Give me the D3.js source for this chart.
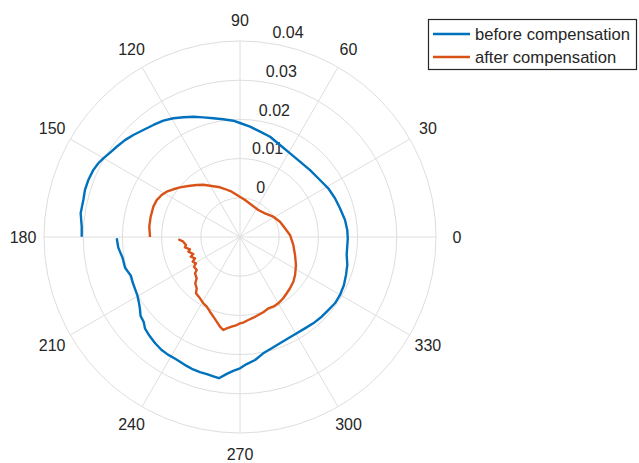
<!DOCTYPE html>
<html>
<head>
<meta charset="utf-8">
<script src="https://cdn.jsdelivr.net/npm/d3@7"></script>
<style>
  html, body { margin: 0; padding: 0; background: #ffffff; }
  svg { display: block; font-family: "Liberation Sans", Arial, Helvetica, sans-serif; }
</style>
</head>
<body>
<svg id="chart" width="639" height="463"></svg>
<script>
// ---- data (theta in degrees, radius in data units) ----
const seriesNames = ["before compensation", "after compensation"];
const thetaTicks = [0, 30, 60, 90, 120, 150, 180, 210, 240, 270, 300, 330];
const rTicks = [0, 0.01, 0.02, 0.03, 0.04];
const rTickLabels = ["0", "0.01", "0.02", "0.03", "0.04"];
const rLimits = [-0.01, 0.04];

const beforeTheta = [179.9, 176.3, 171.5, 166.7, 163.1, 159.4, 155.5, 152.5, 150.1, 147, 143.8, 139.9, 136.3,
  132.1, 127.7, 123.4, 119.3, 115.3, 111.2, 107.1, 102.7, 98.1, 93.3, 90, 84.8, 79.2, 73.3, 66.5, 59.1, 51.5,
  43.7, 35.5, 28.9, 22.2, 16, 9.2, 3.7, -1, -4.3, -9.6, -14.6, -19.7, -24.8, -30.1, -34.9, -39.6, -44.3, -49.7,
  -54.6, -59.5, -64.5, -69.4, -74.1, -78.7, -83, -87, -90, -92.9, -95.5, -98.5, -100.5, -103.6, -106.5, -109.5,
  -112.5, -115.5, -118, -121.5, -124.9, -128.6, -132.5, -136, -138.5, -141.5, -144.5, -147, -150.5, -154, -157,
  -160.5, -165, -170, -175, -179.4];
const beforeR = [0.03038, 0.03046, 0.03110, 0.03107, 0.03133, 0.03133, 0.03115, 0.03074, 0.03023, 0.02952,
  0.02898, 0.02837, 0.02765, 0.02679, 0.02612, 0.02554, 0.02474, 0.02378, 0.02291, 0.02194, 0.02105, 0.02033,
  0.01972, 0.01908, 0.01827, 0.01735, 0.01671, 0.01559, 0.01487, 0.01457, 0.01472, 0.01505, 0.01571, 0.01617,
  0.01653, 0.01714, 0.01742, 0.01750, 0.01745, 0.01760, 0.01829, 0.01872, 0.01921, 0.01949, 0.01954, 0.01923,
  0.01911, 0.01888, 0.01860, 0.01852, 0.01862, 0.01898, 0.01952, 0.02026, 0.02161, 0.02247, 0.02349, 0.02418,
  0.02508, 0.02643, 0.02622, 0.02597, 0.02597, 0.02584, 0.02559, 0.02533, 0.02520, 0.02520, 0.02508, 0.02469,
  0.02418, 0.02367, 0.02278, 0.02240, 0.02138, 0.02074, 0.02010, 0.01985, 0.01972, 0.01954, 0.02036, 0.02043,
  0.02117, 0.02145];

const afterTheta = [180, 173.5, 167.2, 160.7, 156.1, 151.8, 148.3, 144.4, 140.4, 135.4, 129.8, 125.1, 119, 111.9,
  107.4, 100.4, 92.4, 82.3, 70, 55.9, 43.5, 31.4, 20.9, 10.9, 2.3, -8.5, -18.1, -26.6, -34.6, -40, -45.7, -50.3,
  -54.8, -60, -64.5, -68.4, -72.8, -76.8, -80.6, -84.3, -87.8, -90, -92.1, -95.3, -98.3, -100.2, -102.6, -105.4,
  -108.5, -111.9, -115.5, -118.9, -123.1, -128, -130.2, -134, -136.4, -141.1, -142.7, -147.1, -149.1, -152.4,
  -154.7, -158.2, -160, -164.1, -166.2, -169.4, -171.6, -175.3, -177.9];
const afterR = [0.01296, 0.01329, 0.01337, 0.01342, 0.01324, 0.01268, 0.01199, 0.01092, 0.00987, 0.00852,
  0.00727, 0.00630, 0.00487, 0.00367, 0.00283, 0.00176, 0.00054, -0.00048, -0.00130, -0.00168, -0.00122,
  -0.00005, 0.00092, 0.00168, 0.00276, 0.00375, 0.00477, 0.00597, 0.00707, 0.00776, 0.00827, 0.00865, 0.00913,
  0.00954, 0.00969, 0.00957, 0.01010, 0.01043, 0.01087, 0.01128, 0.01184, 0.01202, 0.01247, 0.01298, 0.01355,
  0.01411, 0.01344, 0.01240, 0.01143, 0.01054, 0.00969, 0.00934, 0.00867, 0.00824, 0.00712, 0.00643, 0.00526,
  0.00474, 0.00388, 0.00398, 0.00309, 0.00362, 0.00270, 0.00355, 0.00268, 0.00370, 0.00314, 0.00429, 0.00393,
  0.00452, 0.00574];

const colors = ["#0072BD", "#D95319"];

// ---- layout ----
const svg = d3.select("#chart");
const cx = 240, cy = 237, R = 196;
const rScale = d3.scaleLinear().domain(rLimits).range([0, R]);
const toRad = d => d * Math.PI / 180;
const gridColor = "#dedede";
const textColor = "#262626";

const g = svg.append("g").attr("transform", `translate(${cx},${cy})`);

// rings
const ringVals = rTicks.filter(v => v > rLimits[0]);
g.selectAll("circle.ring").data(ringVals).enter().append("circle")
  .attr("class", "ring").attr("r", d => rScale(d))
  .attr("fill", "none").attr("stroke", gridColor).attr("stroke-width", 1);

// spokes
g.selectAll("line.spoke").data(thetaTicks).enter().append("line")
  .attr("class", "spoke")
  .attr("x1", 0).attr("y1", 0)
  .attr("x2", d => R * Math.cos(toRad(d)))
  .attr("y2", d => -R * Math.sin(toRad(d)))
  .attr("stroke", gridColor).attr("stroke-width", 1);

// theta labels
const labR = 217;
g.selectAll("text.tlab").data(thetaTicks).enter().append("text")
  .attr("class", "tlab")
  .attr("x", d => labR * Math.cos(toRad(d)))
  .attr("y", d => -labR * Math.sin(toRad(d)))
  .attr("text-anchor", "middle").attr("dominant-baseline", "central")
  .attr("font-size", 16).attr("fill", textColor)
  .text(d => d);

// r labels at 80 degrees
const rAxisAngle = toRad(80);
g.selectAll("text.rlab").data(rTicks).enter().append("text")
  .attr("class", "rlab")
  .attr("x", d => rScale(d) * Math.cos(rAxisAngle) + 14)
  .attr("y", d => -rScale(d) * Math.sin(rAxisAngle) - 11)
  .attr("text-anchor", "middle").attr("dominant-baseline", "central")
  .attr("font-size", 16).attr("fill", textColor)
  .text((d, i) => rTickLabels[i]);

// series
const line = d3.lineRadial()
  .angle(d => toRad(90 - d[0]))
  .radius(d => rScale(d[1]));

const series = [
  d3.zip(beforeTheta, beforeR),
  d3.zip(afterTheta, afterR)
];
g.selectAll("path.series").data(series).enter().append("path")
  .attr("class", "series")
  .attr("d", line)
  .attr("fill", "none")
  .attr("stroke", (d, i) => colors[i])
  .attr("stroke-width", 2.4)
  .attr("stroke-linejoin", "round");

// legend
const lg = svg.append("g");
lg.append("rect").attr("x", 428.5).attr("y", 19.5).attr("width", 208).attr("height", 50)
  .attr("fill", "#ffffff").attr("stroke", "#262626").attr("stroke-width", 1.2);
seriesNames.forEach((name, i) => {
  const y = 34 + i * 23;
  lg.append("line").attr("x1", 433).attr("x2", 470).attr("y1", y).attr("y2", y)
    .attr("stroke", colors[i]).attr("stroke-width", 2.4);
  lg.append("text").attr("x", 475).attr("y", y)
    .attr("dominant-baseline", "central").attr("font-size", 16.6).attr("fill", textColor)
    .text(name);
});
</script>
</body>
</html>
